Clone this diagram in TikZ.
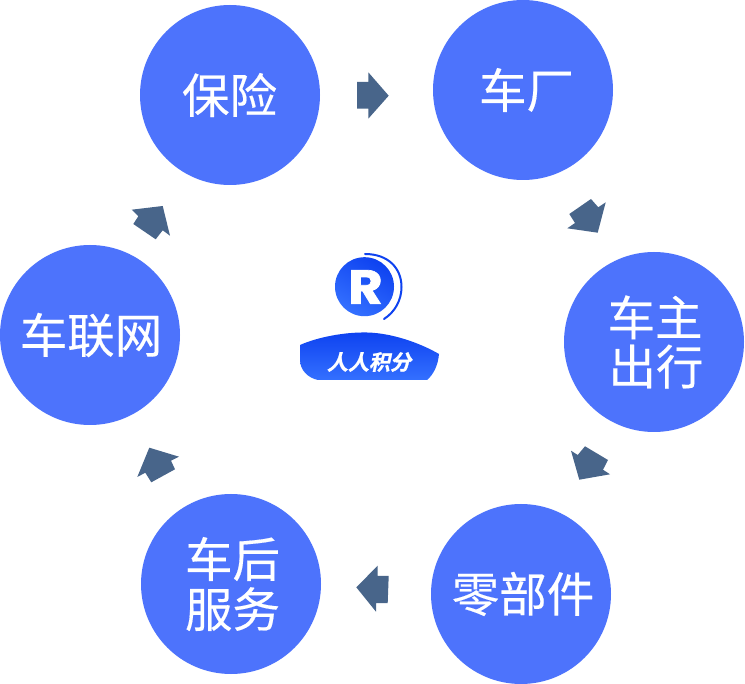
\documentclass[tikz,border=0pt]{standalone}
\usepackage{fontspec}
\usetikzlibrary{shadings}
\setmainfont[FakeBold=0.35]{Noto Sans CJK SC}
\newfontfamily\slantcjk[FakeSlant=0.22,FakeBold=1.2]{Noto Sans CJK SC Bold}
\newfontfamily\logofont[FakeBold=1.5,FakeStretch=1.1]{Poppins Bold}
\definecolor{disc}{RGB}{77,115,252}
\definecolor{flow}{RGB}{72,101,138}
\definecolor{logoa}{RGB}{14,66,240}
\definecolor{logob}{RGB}{52,112,255}
\tikzset{
  x=1pt,y=-1pt,
  stage/.style={circle,fill=disc,minimum size=180pt,inner sep=0pt,text=white,align=center,
    font=\fontsize{47.5}{52}\selectfont},
  flowarrow/.style={fill=flow,draw=none}
}
\begin{document}
\begin{tikzpicture}
\useasboundingbox (0,0) rectangle (745,684);
\fill[white] (0,0) rectangle (745,684);
% stages
\node[stage] (ins) at (230,95) {\raisebox{3pt}{\kern-1pt 保险}};
\node[stage] (oem) at (523,90) {\raisebox{-3pt}{\kern7pt 车厂}};
\node[stage] (own) at (654,342) {\raisebox{-8pt}{\kern2pt 车主}\\[0pt]\raisebox{-5pt}{\kern4pt 出行}};
\node[stage] (prt) at (521,594) {\raisebox{3pt}{\kern4pt 零部件}};
\node[stage] (aft) at (231,584) {\raisebox{-1pt}{\kern3pt 车后}\\[0pt]\raisebox{1pt}{\kern3pt 服务}};
\node[stage] (net) at (90,335) {\raisebox{-3pt}{\kern2pt 车联网}};
% arrows
\fill[flowarrow] (357,82)--(368.3,82)--(368.3,72.3)--(388.7,95.7)--(368.3,118.7)--(368.3,108.7)--(357,108.7)--cycle;
\fill[flowarrow] (591,199)--(598.3,207.3)--(605.7,202.3)--(597.7,232.7)--(567.3,228.3)--(575,223)--(569.3,214)--cycle;
\fill[flowarrow] (571,450.7)--(577.7,455)--(585,446.3)--(608,460)--(603,469.7)--(610,474.3)--(579.3,479.7)--cycle;
\fill[flowarrow] (388.7,576)--(377.7,576)--(377.7,565.7)--(356.3,587.3)--(376,611.7)--(376,603)--(387.7,603)--cycle;
\fill[flowarrow] (149.3,447.7)--(179,456.7)--(171,460.7)--(175,469.3)--(151.3,482.3)--(145.3,472.7)--(137.3,477)--cycle;
\fill[flowarrow] (131.7,209.7)--(162.7,206)--(170,235.7)--(162.7,230.3)--(155.7,239.3)--(133.3,224)--(138.3,216.3)--cycle;
% logo
\shade[bottom color=logob,top color=logoa,shading angle=-30] (364.5,286.7) circle[radius=29.5];
\node[text=white,inner sep=0pt,font=\logofont\fontsize{48}{48}\selectfont] (logoR) at (365.5,287) {R};
\draw[logoa,line width=2pt,line cap=round] (365,254) .. controls (388,254) and (401.5,268) .. (401.5,287) .. controls (401.5,300) and (395,312) .. (384,319);
\shade[top color=logoa,bottom color=logob]
  (300,345) .. controls (318,337) and (345,332) .. (367,332.5)
  .. controls (392,333) and (420,343) .. (439,354)
  .. controls (438,366) and (433,375) .. (427,380)
  -- (318,380) .. controls (308,378) and (300,370) .. (300,360) -- cycle;
\node[text=white,inner sep=0pt,font=\slantcjk\fontsize{21}{22}\selectfont] (logoT) at (369,362) {人人积分};
\end{tikzpicture}
\end{document}
